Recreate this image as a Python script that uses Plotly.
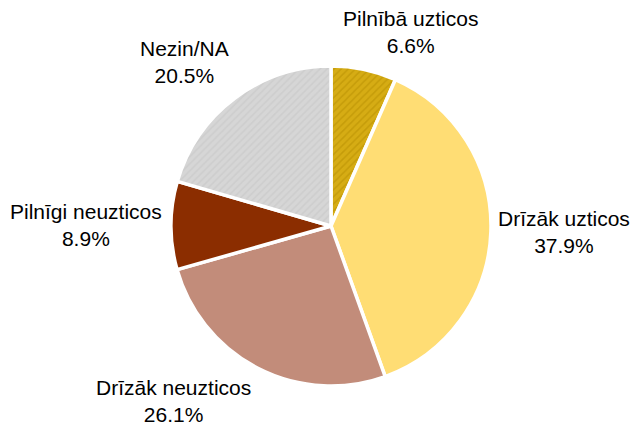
import plotly.graph_objects as go

labels = ["Pilnībā uzticos", "Drīzāk uzticos", "Drīzāk neuzticos", "Pilnīgi neuzticos", "Nezin/NA"]
values = [6.6, 37.9, 26.1, 8.9, 20.5]

# styles (kept apart from data)
colors = ["#D6AC14", "#FFDD74", "#C28C7A", "#8B2D00", "#D6D6D6"]
pattern_shapes = ["/", "", "", "", "/"]
pattern_fg = ["#B48C00", "#FFDD74", "#C28C7A", "#8B2D00", "#C4C4C4"]

# label block centres in pixels (layout only)
label_pos = [(410, 32), (564, 232), (173, 401), (86, 225), (184, 62)]

W, H = 635, 425
cx, cy, r = 331, 226, 160

fig = go.Figure(go.Pie(
    labels=labels,
    values=values,
    sort=False,
    direction="clockwise",
    rotation=0,
    marker=dict(
        colors=colors,
        line=dict(color="white", width=3.5),
        pattern=dict(shape=pattern_shapes, fgcolor=pattern_fg, size=5, solidity=0.3, fillmode="overlay"),
    ),
    textinfo="none",
    hoverinfo="label+percent",
    domain=dict(x=[(cx - r) / W, (cx + r) / W], y=[(H - cy - r) / H, (H - cy + r) / H]),
    showlegend=False,
))

for lab, val, (px, py) in zip(labels, values, label_pos):
    fig.add_annotation(
        x=px / W, y=1 - py / H, xref="paper", yref="paper",
        text=f"{lab}<br>{val:.1f}%",
        showarrow=False, xanchor="center", yanchor="middle", align="center",
        font=dict(family="Liberation Sans, Arial, sans-serif", size=21, color="#000000"),
    )

fig.update_layout(
    width=W, height=H,
    margin=dict(l=0, r=0, t=0, b=0),
    paper_bgcolor="white",
    plot_bgcolor="white",
)

fig.write_html("out.html", config={"displayModeBar": False},
               post_script="document.body.style.margin='0';")
